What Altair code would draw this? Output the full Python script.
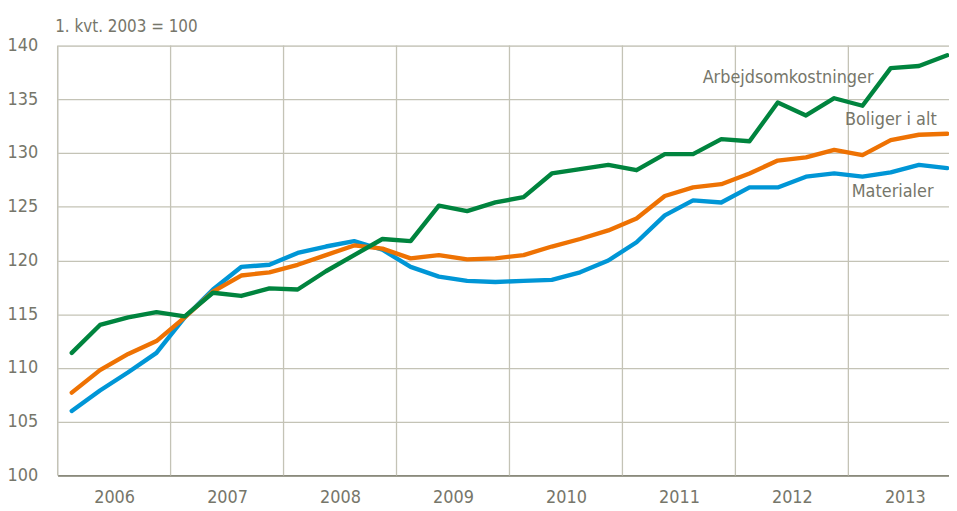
import altair as alt
import pandas as pd

years = [2006, 2007, 2008, 2009, 2010, 2011, 2012, 2013]
quarters = [f"{y}K{q}" for y in years for q in (1, 2, 3, 4)]

arbeid = [111.4, 114.0, 114.7, 115.2, 114.8, 117.0, 116.7, 117.4,
          117.3, 119.0, 120.5, 122.0, 121.8, 125.1, 124.6, 125.4,
          125.9, 128.1, 128.5, 128.9, 128.4, 129.9, 129.9, 131.3,
          131.1, 134.7, 133.5, 135.1, 134.4, 137.9, 138.1, 139.1]
boliger = [107.7, 109.8, 111.3, 112.5, 114.7, 117.1, 118.6, 118.9,
           119.6, 120.5, 121.4, 121.1, 120.2, 120.5, 120.1, 120.2,
           120.5, 121.3, 122.0, 122.8, 123.9, 126.0, 126.8, 127.1,
           128.1, 129.3, 129.6, 130.3, 129.8, 131.2, 131.7, 131.8]
materialer = [106.0, 107.9, 109.6, 111.4, 114.7, 117.3, 119.4, 119.6,
              120.7, 121.3, 121.8, 121.0, 119.4, 118.5, 118.1, 118.0,
              118.1, 118.2, 118.9, 120.0, 121.7, 124.2, 125.6, 125.4,
              126.8, 126.8, 127.8, 128.1, 127.8, 128.2, 128.9, 128.6]

series_names = ["Materialer", "Boliger i alt", "Arbejdsomkostninger"]
series_colors = ["#0096D6", "#EE7203", "#00843E"]

# annotation labels (data coordinates)
label_text = ["Arbejdsomkostninger", "Boliger i alt", "Materialer"]
label_x = [2011.71, 2012.97, 2013.03]
label_y = [137.0, 133.1, 126.4]

y_ticks = [100, 105, 110, 115, 120, 125, 130, 135, 140]
year_bounds = [2006, 2007, 2008, 2009, 2010, 2011, 2012, 2013]
year_mids = [y + 0.5 for y in years]


def qpos(label):
    y, q = label.split("K")
    return int(y) + (int(q) - 0.5) / 4


rows = []
for name, vals in zip(series_names, [materialer, boliger, arbeid]):
    for i, (q, v) in enumerate(zip(quarters, vals)):
        rows.append({"serie": name, "kvartal": q, "t": qpos(q), "verdi": v, "idx": i})
df = pd.DataFrame(rows)

grid_df = pd.DataFrame({"yr": year_bounds})
lab_df = pd.DataFrame({"txt": label_text, "x": label_x, "y": label_y})

FONT = "Liberation Sans Narrow, DejaVu Sans Condensed, sans-serif"
TXT = "#76766A"
GRID = "#C4C3B6"

xscale = alt.Scale(domain=[2006, 2013.891], nice=False, zero=False)
yscale = alt.Scale(domain=[100, 140], nice=False, zero=False)

xaxis = alt.Axis(values=year_mids, labelExpr="floor(datum.value)", grid=False,
                 ticks=False, domain=True, domainColor="#8A8A7C", domainWidth=1.6,
                 labelFont=FONT, labelFontSize=18, labelColor=TXT, labelPadding=13,
                 title=None, labelFlush=False)
yaxis = alt.Axis(values=y_ticks, grid=True, gridColor=GRID, gridWidth=1.3,
                 ticks=False, domain=False, labelFont=FONT, labelFontSize=18,
                 labelColor=TXT, labelPadding=20,
                 title="1. kvt. 2003 = 100", titleAngle=0, titleFont=FONT,
                 titleFontSize=17, titleFontWeight="normal", titleColor=TXT,
                 titleAlign="left", titleBaseline="middle", titleX=-3, titleY=-19)

vgrid = alt.Chart(grid_df).mark_rule(color=GRID, strokeWidth=1.3).encode(
    x=alt.X("yr:Q", scale=xscale, axis=xaxis),
    y=alt.value(0),
    y2=alt.value(433),
)

lines = alt.Chart(df).mark_line(strokeWidth=4.4, strokeCap="round", strokeJoin="round").encode(
    x=alt.X("t:Q", scale=xscale, axis=xaxis),
    y=alt.Y("verdi:Q", scale=yscale, axis=yaxis),
    color=alt.Color("serie:N", scale=alt.Scale(domain=series_names, range=series_colors), legend=None),
    order=alt.Order("idx:Q"),
)

labels = alt.Chart(lab_df).mark_text(align="left", baseline="middle", font=FONT,
                                     fontSize=18, color=TXT).encode(
    x=alt.X("x:Q", scale=xscale, axis=xaxis),
    y=alt.Y("y:Q", scale=yscale, axis=yaxis),
    text="txt:N",
)

chart = alt.layer(vgrid, lines, labels).properties(
    width=898, height=433,
    padding={"left": 50, "top": 36, "right": 0, "bottom": 32},
    autosize=alt.AutoSizeParams(type="none"),
).configure_view(stroke=None).configure(background="white")

chart.save("out.html", embed_options={"renderer": "svg", "actions": False})
